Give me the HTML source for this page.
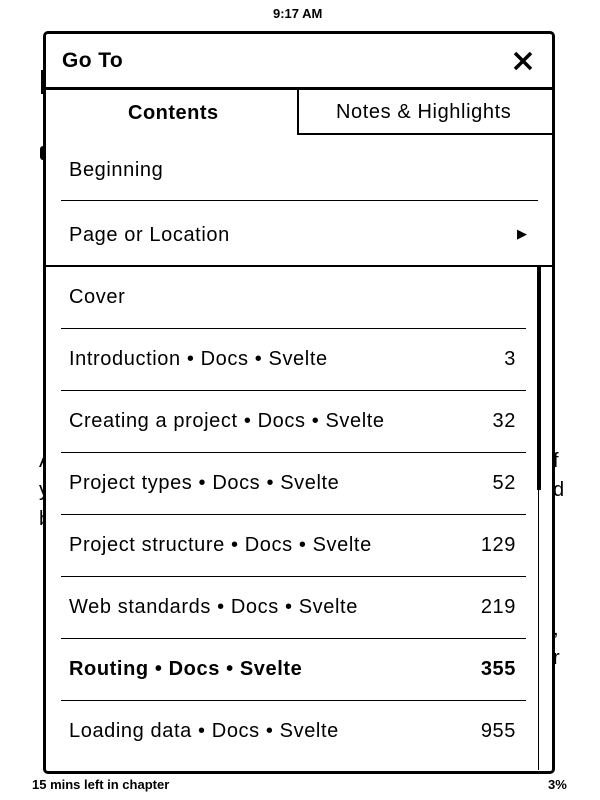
<!DOCTYPE html>
<html><head><meta charset="utf-8"><style>
body{margin:0;width:600px;height:800px;background:#fff;position:relative;overflow:hidden;font-family:"Liberation Sans","DejaVu Sans",sans-serif;color:#000}
.a{position:absolute;white-space:nowrap}
.row{position:absolute;left:69px;font-size:20px;letter-spacing:0.6px}
.num{position:absolute;right:84px;font-size:20px;text-align:right;letter-spacing:0.6px}
.sep{position:absolute;left:61px;width:465px;height:1px;background:#000}
</style></head><body>
<div class="a" style="left:273px;top:6px;font-size:13px;font-weight:bold">9:17 AM</div>
<div class="a" style="left:39px;top:447px;font-size:20px;line-height:29px">A<br>y<br>b</div>
<div class="a" style="left:553px;top:447px;font-size:20px;line-height:29px">f<br>d</div>
<div class="a" style="left:553px;top:615px;font-size:20px;line-height:29px">,<br>r</div>
<div class="a" style="left:41px;top:70px;width:4px;height:24px;background:#000"></div>
<div class="a" style="left:40px;top:146px;width:6px;height:14px;border-radius:3px;background:#000"></div>
<div class="a" style="left:43px;top:31px;width:506px;height:737px;border:3px solid #000;border-radius:5px;background:#fff"></div>
<div class="a" style="left:62px;top:49px;font-size:21px;font-weight:bold;letter-spacing:0.4px">Go To</div>
<svg class="a" style="left:513px;top:51px" width="20" height="20"><path d="M2 2L18 18M18 2L2 18" stroke="#000" stroke-width="3.5"/></svg>
<div class="a" style="left:46px;top:87px;width:506px;height:3px;background:#000"></div>
<div class="a" style="left:297px;top:88px;width:2px;height:47px;background:#000"></div>
<div class="a" style="left:297px;top:133px;width:255px;height:2px;background:#000"></div>
<div class="a" style="left:128px;top:102px;font-size:20px;font-weight:bold;letter-spacing:0.5px">Contents</div>
<div class="a" style="left:336px;top:101px;font-size:20px;letter-spacing:0.6px">Notes &amp; Highlights</div>
<div class="row a" style="top:159px">Beginning</div>
<div class="a" style="left:61px;top:200px;width:477px;height:1px;background:#000"></div>
<div class="row a" style="top:224px">Page or Location</div>
<div class="a" style="left:517px;top:226px;font-size:13px">▶</div>
<div class="a" style="left:46px;top:265px;width:506px;height:2px;background:#000"></div>
<div class="a" style="left:538px;top:267px;width:1px;height:503px;background:#000"></div>
<div class="a" style="left:537px;top:267px;width:4px;height:223px;background:#000"></div>
<div class="row a" style="top:286px">Cover</div>
<div class="sep" style="top:328px"></div>
<div class="row a" style="top:348px">Introduction • Docs • Svelte</div><div class="num a" style="top:348px">3</div>
<div class="sep" style="top:390px"></div>
<div class="row a" style="top:410px">Creating a project • Docs • Svelte</div><div class="num a" style="top:410px">32</div>
<div class="sep" style="top:452px"></div>
<div class="row a" style="top:472px">Project types • Docs • Svelte</div><div class="num a" style="top:472px">52</div>
<div class="sep" style="top:514px"></div>
<div class="row a" style="top:534px">Project structure • Docs • Svelte</div><div class="num a" style="top:534px">129</div>
<div class="sep" style="top:576px"></div>
<div class="row a" style="top:596px">Web standards • Docs • Svelte</div><div class="num a" style="top:596px">219</div>
<div class="sep" style="top:638px"></div>
<div class="row a" style="top:658px;font-weight:bold">Routing • Docs • Svelte</div><div class="num a" style="top:658px;font-weight:bold">355</div>
<div class="sep" style="top:700px"></div>
<div class="row a" style="top:720px">Loading data • Docs • Svelte</div><div class="num a" style="top:720px">955</div>
<div class="a" style="left:32px;top:777px;font-size:13px;font-weight:bold">15 mins left in chapter</div>
<div class="a" style="left:548px;top:777px;font-size:13px;font-weight:bold">3%</div>
</body></html>
